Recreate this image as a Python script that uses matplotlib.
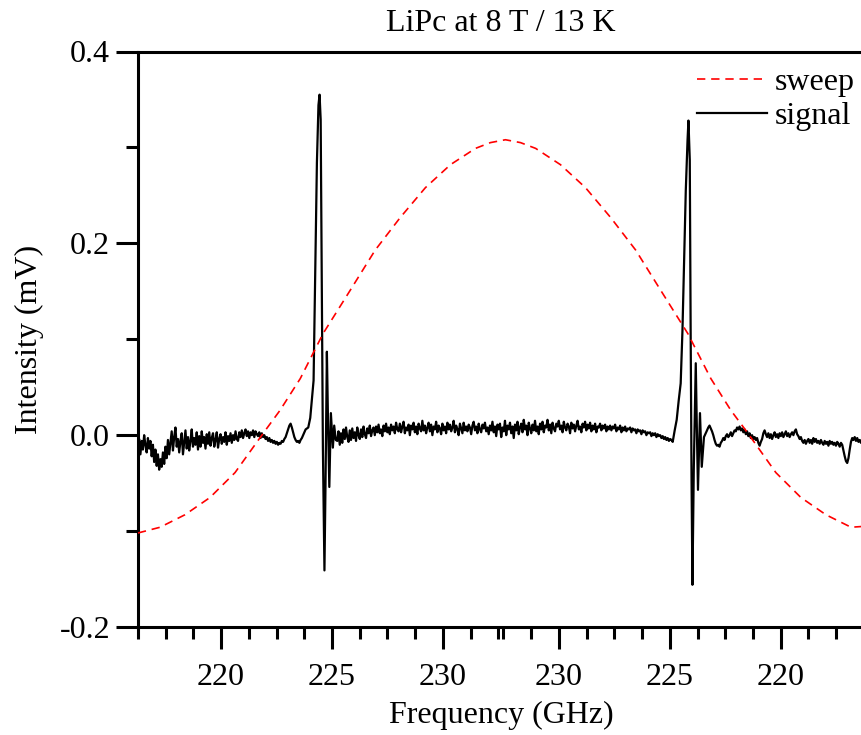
import numpy as np
import matplotlib
matplotlib.use('Agg')
import matplotlib.pyplot as plt
from matplotlib.ticker import FixedLocator

plt.rcParams['font.family'] = 'Liberation Serif'
plt.rcParams['axes.unicode_minus'] = False
plt.rcParams['font.size'] = 23

# x axis is the unfolded sweep: up from 216.25 GHz to the top, then back down.
# on the way down, position = fold - frequency
fold = 465.23

# sweep reference (mV)
sweep_x = [216.25, 217.25, 218.37, 219.50, 220.63, 221.90, 222.66, 223.57, 224.60,
           225.82, 226.95, 228.08, 229.21, 230.34, 231.47, 232.14, 232.82, 233.50,
           234.18, 235.30, 236.43, 237.56, 238.69, 239.82, 241.04, 242.08, 242.98,
           243.75, 245.01, 246.14, 247.27, 248.40, 249.03]
sweep_y = [-0.102, -0.096, -0.083, -0.065, -0.039, 0.002, 0.026, 0.059, 0.106,
           0.151, 0.193, 0.227, 0.258, 0.282, 0.299, 0.305, 0.308, 0.305,
           0.299, 0.282, 0.258, 0.227, 0.193, 0.151, 0.106, 0.059, 0.026,
           0.002, -0.039, -0.065, -0.083, -0.096, -0.095]

# signal: noisy baseline pieces (uV, evenly sampled) + the two resonances
step = 0.05643
base_left_start = 216.25
base_left = [-12, -4, -20, -6, -15, 0, -10, -18, -3, -14,
             -6, -22, -10, -28, -15, -32, -20, -36, -25, -33,
             -18, -30, -12, -24, -5, -20, -8, 4, -16, -2,
             8, -12, -4, -18, -6, 2, -20, -8, 5, -14,
             -2, -16, -6, 6, -12, -3, -10, 3, -15, -1,
             -12, 4, -8, -2, -14, 1, -9, 3, -11, -3,
             2, -12, -5, 3, -13, -4, 1, -9, -2, -7,
             3, -10, -1, -6, 2, -8, 0, -5, 4, -4,
             -6, 3, -2, 5, -3, 2, 6, -1, 4, -3,
             3, 0, 5, -2, 4, 1, -1, 3, -3, 2,
             -2, 0, -4, -2, -6, -3, -7, -5, -8, -6,
             -9, -7, -10, -8, -9, -6, -7, -4, -2, 2,
             6, 10, 12, 8, 3, -2, -5, -7, -6, -8,
             -5, -3, 0, 3, 6]

peak1_x = [223.93, 224.02, 224.09, 224.17, 224.24, 224.32, 224.39, 224.44, 224.49,
           224.55, 224.59, 224.63, 224.66, 224.71, 224.77, 224.82, 224.88, 224.95,
           225.04, 225.10, 225.17]
peak1_y = [0.008, 0.018, 0.036, 0.057, 0.162, 0.284, 0.344, 0.355, 0.329,
           0.127, -0.013, -0.089, -0.141, -0.047, 0.087, 0.016, -0.054, 0.023,
           -0.013, 0.010, -0.005]

base_mid_start = 225.237
base_mid = [-6, 4, -10, 2, -8, 6, -4, 8, -2, -7,
            5, -5, 7, -3, 3, -6, 8, 0, -4, 6,
            -2, 9, 1, -3, 7, 2, 10, -1, 5, 8,
            0, 9, 3, 11, 2, 6, -1, 10, 4, 12,
            3, 8, 1, 11, 5, 9, 2, 13, 6, 4,
            12, 3, 9, 14, 2, 8, 5, 11, 0, 10,
            6, 13, 3, 9, 1, 12, 7, 4, 15, 5,
            10, 2, 8, 13, 4, 11, 0, 9, 6, 14,
            3, 10, 7, 1, 12, 5, 9, 2, 13, 6,
            11, 4, 8, 15, 3, 10, 6, 0, 12, 7,
            2, 13, 5, 9, 4, 11, 8, 1, 10, 14,
            5, 9, 2, 12, 6, 3, 11, 7, 13, 4,
            8, 1, 10, 5, 14, 3, 9, -1, 11, 6,
            12, -2, 8, 4, 15, 0, 10, 6, 13, 2,
            9, -3, 11, 5, 14, 1, 8, 12, 3, 16,
            6, 10, 0, 13, 7, 2, 11, 5, 15, 4,
            9, 1, 12, 6, 14, 3, 10, 8, 16, 5,
            11, 2, 13, 7, 4, 12, 9, 15, 6, 10,
            3, 14, 8, 5, 12, 9, 2, 13, 7, 11,
            4, 10, 15, 6, 9, 3, 12, 8, 14, 5,
            11, 7, 13, 4, 10, 6, 12, 3, 9, 8,
            12, 5, 10, 7, 11, 4, 9, 6, 10, 5,
            9, 7, 11, 4, 8, 6, 10, 3, 8, 5,
            9, 4, 7, 6, 8, 3, 7, 5, 6, 2,
            6, 4, 5, 1, 5, 3, 4, 0, 3, 2,
            3, -1, 2, 0, 2, -2, 1, -1, 0, -3,
            -1, -4, -2, -5, -3, -6, -4, -5, -7]

peak2_x = [240.45, 240.54, 240.63, 240.72, 240.80, 240.87, 240.95, 241.03, 241.07,
           241.13, 241.17, 241.21, 241.25, 241.31, 241.40, 241.45, 241.50, 241.59,
           241.67, 241.77]
peak2_y = [0.005, 0.016, 0.036, 0.054, 0.109, 0.175, 0.255, 0.308, 0.328,
           0.287, 0.106, -0.047, -0.156, -0.036, 0.075, 0.005, -0.057, 0.023,
           -0.033, -0.002]

base_right_start = 241.851
base_right = [2, 5, 8, 10, 7, 4, 0, -5, -9, -11,
              -10, -12, -8, -6, -3, -5, -1, 1, -2, 0,
              3, -1, 2, 5, 4, 8, 6, 9, 5, 7,
              3, 6, 1, 4, -1, 2, -3, 0, -4, -2,
              -5, -3, -8, -11, -7, -4, 2, 5, 1, -2,
              2, -3, 1, -4, 0, 3, -2, 1, -3, 2,
              -1, 3, -2, 1, 4, -1, 2, -2, 1, 3,
              0, 4, 6, 1, -1, -4, -2, -6, -8, -5,
              -9, -6, -4, -8, -5, -9, -3, -7, -4, -8,
              -6, -9, -5, -8, -10, -6, -9, -7, -11, -6,
              -9, -7, -10, -8, -11, -7, -9, -12, -8, -10,
              -16, -22, -27, -29, -24, -15, -7, -3, -5, -2,
              -6, -3, -7, -5, -8, -4, -6]

tick_major_freq = [220, 225, 230]
tick_minor_freq = [216.25, 217.5, 218.75, 221.25, 222.5, 223.75, 226.25, 227.5,
                   228.75, 231.25, 232.5]


def seg(start, vals):
    x = start + step * np.arange(len(vals))
    return x, np.array(vals) / 1000.0


xl, yl = seg(base_left_start, base_left)
xm, ym = seg(base_mid_start, base_mid)
xr, yr = seg(base_right_start, base_right)
sig_x = np.concatenate([xl, peak1_x, xm, peak2_x, xr])
sig_y = np.concatenate([yl, peak1_y, ym, peak2_y, yr])

fig = plt.figure(figsize=(8.62, 7.35), dpi=100)
ax = fig.add_axes([137.9 / 862, 108 / 735, 726 / 862, 575.5 / 735])

ax.plot(sig_x, sig_y, color='black', lw=1.6, label='signal', zorder=2)
ax.plot(sweep_x, sweep_y, color='red', lw=1.2, ls=(0, (5, 3.5)), label='sweep', zorder=3)

ax.set_xlim(216.25, 248.98)
ax.set_ylim(-0.2, 0.4)

maj = list(tick_major_freq) + [fold - f for f in tick_major_freq[::-1]]
maj_lab = [str(f) for f in tick_major_freq] + [str(f) for f in tick_major_freq[::-1]]
mnr = list(tick_minor_freq) + [fold - f for f in tick_minor_freq]
ax.xaxis.set_major_locator(FixedLocator(maj))
ax.set_xticklabels(maj_lab)
ax.xaxis.set_minor_locator(FixedLocator(mnr))

ax.set_yticks([-0.2, 0.0, 0.2, 0.4])
ax.set_yticklabels(['-0.2', '0.0', '0.2', '0.4'])
ax.set_yticks([-0.1, 0.1, 0.3], minor=True)

for s in ax.spines.values():
    s.set_linewidth(2.2)
ax.tick_params(which='major', direction='out', length=16, width=2.2, labelsize=23)
ax.tick_params(which='minor', direction='out', length=8.5, width=2.2)
ax.tick_params(axis='x', which='major', pad=10)
ax.tick_params(axis='y', which='major', pad=4)

ax.set_title('LiPc at 8 T / 13 K', fontsize=23, pad=15)
ax.set_xlabel('Frequency (GHz)', fontsize=23, labelpad=6)
ax.set_ylabel('Intensity (mV)', fontsize=23, labelpad=11)

h, l = ax.get_legend_handles_labels()
ax.legend(h[::-1], l[::-1], loc='upper left', bbox_to_anchor=(697 / 862, 1 - 68 / 735),
          bbox_transform=fig.transFigure, frameon=False, fontsize=23,
          handlelength=2.2, handletextpad=0.24, labelspacing=0.125,
          borderpad=0, borderaxespad=0)

fig.savefig('out.png', dpi=100)
